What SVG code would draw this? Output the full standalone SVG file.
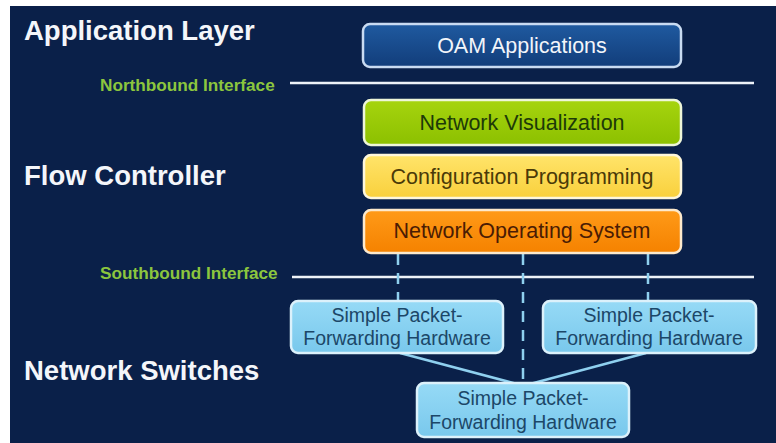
<svg xmlns="http://www.w3.org/2000/svg" width="776" height="443" viewBox="0 0 776 443">
<defs>
<linearGradient id="gOam" x1="0" y1="0" x2="0" y2="1"><stop offset="0" stop-color="#1f5aa0"/><stop offset="1" stop-color="#123d7a"/></linearGradient>
<linearGradient id="gVis" x1="0" y1="0" x2="0" y2="1"><stop offset="0" stop-color="#a6d40e"/><stop offset="1" stop-color="#8cc000"/></linearGradient>
<linearGradient id="gCfg" x1="0" y1="0" x2="0" y2="1"><stop offset="0" stop-color="#ffe46a"/><stop offset="1" stop-color="#f9d03c"/></linearGradient>
<linearGradient id="gNos" x1="0" y1="0" x2="0" y2="1"><stop offset="0" stop-color="#ff9a18"/><stop offset="1" stop-color="#f58200"/></linearGradient>
<linearGradient id="gSw" x1="0" y1="0" x2="0" y2="1"><stop offset="0" stop-color="#96daf6"/><stop offset="1" stop-color="#79c8ec"/></linearGradient>
</defs>
<style>
.title{font-family:"Liberation Sans",Arial,sans-serif;font-weight:bold;font-size:27.5px;fill:#f4f6fa}
.iface{font-family:"Liberation Sans",Arial,sans-serif;font-weight:bold;font-size:17.2px;fill:#8cc63e}
.lbl{font-family:"Liberation Sans",Arial,sans-serif;font-size:21.5px;text-anchor:middle}
.sw{font-family:"Liberation Sans",Arial,sans-serif;font-size:19.5px;text-anchor:middle;fill:#1c4768}
.box{stroke-width:2.5}
.swbox{fill:url(#gSw);stroke:#dcf1fb;stroke-width:2.5}
.bus{stroke:#eef2f8;stroke-width:2.5}
.dash{stroke:#8fd0ef;stroke-width:2.5;stroke-dasharray:11 8;fill:none}
.link{stroke:#8fd0ef;stroke-width:2.5;fill:none}
</style>
<rect x="0" y="0" width="776" height="443" fill="#ffffff"/>
<rect x="10" y="6" width="766" height="437" fill="#0a2049"/>
<text class="title" x="24" y="40">Application Layer</text>
<text class="title" x="24" y="185">Flow Controller</text>
<text class="title" x="24" y="380">Network Switches</text>
<text class="iface" x="100" y="91">Northbound Interface</text>
<text class="iface" x="100" y="279">Southbound Interface</text>
<g id="connectors">
<line class="bus" x1="290" y1="83" x2="754" y2="83"/>
<line class="bus" x1="292" y1="277" x2="754" y2="277"/>
<line class="dash" x1="398" y1="254" x2="398" y2="300"/>
<line class="dash" x1="523" y1="254" x2="523" y2="383"/>
<line class="dash" x1="648" y1="254" x2="648" y2="300"/>
<line class="link" x1="400" y1="353" x2="517" y2="384"/>
<line class="link" x1="646" y1="353" x2="530" y2="384"/>
</g>
<g id="oam">
<rect class="box" x="363" y="24" width="318" height="43" rx="7" fill="url(#gOam)" stroke="#c9dbf2"/>
<text class="lbl" x="522" y="53" fill="#f2f5fa">OAM Applications</text>
</g>
<g id="netvis">
<rect class="box" x="364" y="100" width="317" height="45" rx="7" fill="url(#gVis)" stroke="#eef6d8"/>
<text class="lbl" x="522" y="130" fill="#1d3a08">Network Visualization</text>
</g>
<g id="config">
<rect class="box" x="364" y="155" width="317" height="43" rx="7" fill="url(#gCfg)" stroke="#fdf6dc"/>
<text class="lbl" x="522" y="184" fill="#4a3a08">Configuration Programming</text>
</g>
<g id="nos">
<rect class="box" x="364" y="210" width="317" height="43" rx="7" fill="url(#gNos)" stroke="#fde9cc"/>
<text class="lbl" x="522" y="238" fill="#4a1c04">Network Operating System</text>
</g>
<g id="switch-left">
<rect class="swbox" x="291" y="301" width="212" height="52" rx="7"/>
<text class="sw" x="397" y="322">Simple Packet-</text>
<text class="sw" x="397" y="345">Forwarding Hardware</text>
</g>
<g id="switch-right">
<rect class="swbox" x="543" y="301" width="213" height="52" rx="7"/>
<text class="sw" x="649" y="322">Simple Packet-</text>
<text class="sw" x="649" y="345">Forwarding Hardware</text>
</g>
<g id="switch-bottom">
<rect class="swbox" x="417" y="383" width="212" height="54" rx="7"/>
<text class="sw" x="523" y="405">Simple Packet-</text>
<text class="sw" x="523" y="429">Forwarding Hardware</text>
</g>
</svg>
